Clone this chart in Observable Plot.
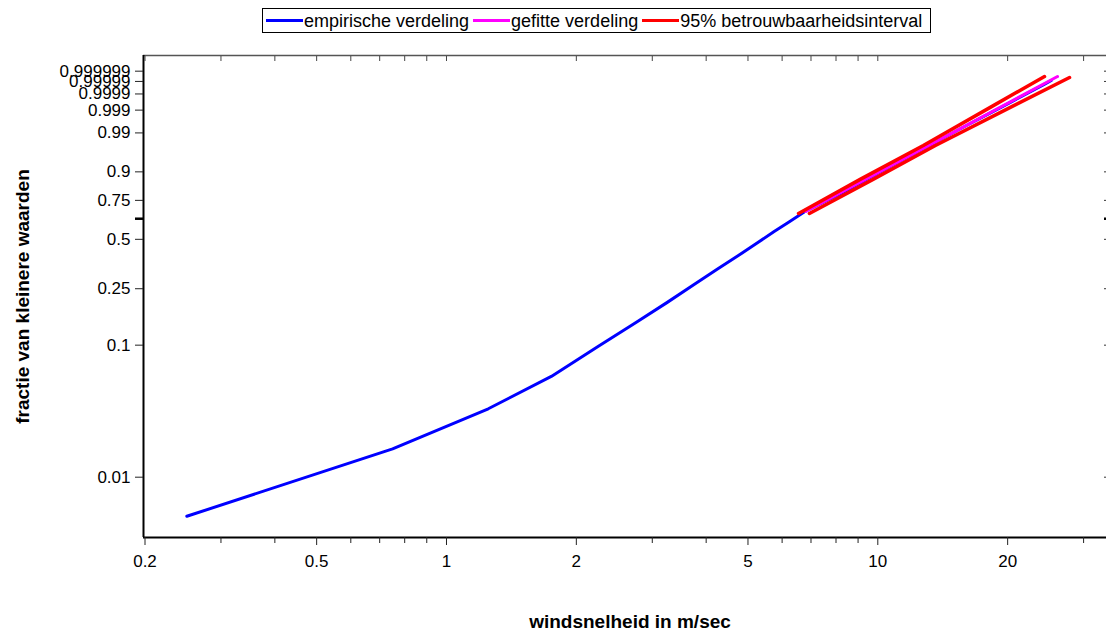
<!DOCTYPE html>
<html>
<head>
<meta charset="utf-8">
<script src="https://cdn.jsdelivr.net/npm/d3@7"></script>
<script src="https://cdn.jsdelivr.net/npm/@observablehq/plot@0.6"></script>
<style>
  html, body { margin: 0; padding: 0; background: #fff; }
  body { width: 1106px; height: 637px; overflow: hidden; font-family: "Liberation Sans", Arial, sans-serif; }
  #legend { position: relative; width: 1106px; height: 40px; }
  #legend .box { position: absolute; left: 262px; top: 8px; width: 669px; height: 25px; border: 1px solid #000; box-sizing: border-box; display: flex; align-items: center; padding-left: 3px; }
  #legend .sw { width: 37px; height: 3px; flex: none; }
  #legend .lab { font-size: 18px; color: #000; margin-left: 1px; margin-right: 4px; white-space: nowrap; line-height: 1; }
  svg { display: block; }
</style>
</head>
<body>
<div id="legend"><div class="box"></div></div>
<div id="chart"></div>
<script>
// ---------- data ----------
const legendNames = ["empirische verdeling", "gefitte verdeling", "95% betrouwbaarheidsinterval"];
const legendColors = ["#0000ff", "#ff00ff", "#ff0000"];

// empirical distribution (wind speed m/s, fraction of smaller values)
const empSpeed = [0.25, 0.75, 1.25, 1.75, 2.25, 2.75, 3.25, 3.75, 4.25, 4.75, 5.25, 5.75, 6.25, 6.75,
                  8.25, 10.25, 12.25, 14.25, 16.25, 18.25, 20.25, 22.25, 24.25, 25.25];
const empFrac  = [0.005, 0.0165, 0.0334, 0.0586, 0.098, 0.146, 0.202, 0.267, 0.336, 0.405, 0.477, 0.549, 0.614, 0.676,
                  0.795, 0.905, 0.961, 0.9857, 0.99535, 0.99862, 0.99963, 0.999912, 0.999981, 0.9999918];

// fitted distribution
const fitSpeed = [6.8, 26.1];
const fitFrac  = [0.6795, 0.9999965];

// 95% confidence band (left / right)
const bandLowSpeed  = [6.55, 9.1, 12.75, 18.4, 24.35];
const bandLowFrac   = [0.6664, 0.8665, 0.9748, 0.99938, 0.9999965];
const bandHighSpeed = [6.94, 9.75, 13.6, 20.5, 27.83];
const bandHighFrac  = [0.6664, 0.8665, 0.9748, 0.99938, 0.9999957];

// axes
const xDomain = [0.1984, 33.9];
const xMajorTicks = [0.2, 0.5, 1, 2, 5, 10, 20];
const xMajorLabels = ["0.2", "0.5", "1", "2", "5", "10", "20"];
const xMinorTicks = [0.3, 0.4, 0.6, 0.7, 0.8, 0.9, 3, 4, 6, 7, 8, 9, 30];
const yDomainFrac = [0.00343, 0.9999999883];
const yTicks = [0.01, 0.1, 0.25, 0.5, 0.75, 0.9, 0.99, 0.999, 0.9999, 0.99999, 0.999999];
const yTickLabels = ["0.01", "0.1", "0.25", "0.5", "0.75", "0.9", "0.99", "0.999", "0.9999", "0.99999", "0.999999"];
const yRefTick = [1 - Math.exp(-1)];
const xTitle = "windsnelheid in m/sec";
const yTitle = "fractie van kleinere waarden";

// ---------- legend ----------
const box = document.querySelector("#legend .box");
legendNames.forEach((n, i) => {
  const sw = document.createElement("span"); sw.className = "sw"; sw.style.background = legendColors[i];
  const lb = document.createElement("span"); lb.className = "lab"; lb.textContent = n;
  box.appendChild(sw); box.appendChild(lb);
});

// ---------- chart ----------
const wt = p => Math.log(-Math.log(1 - p)); // Weibull probability transform
const rows = (xs, ps) => xs.map((x, i) => ({x, p: ps[i]}));
const emp = rows(empSpeed, empFrac);
const fit = rows(fitSpeed, fitFrac);
const bandL = rows(bandLowSpeed, bandLowFrac);
const bandH = rows(bandHighSpeed, bandHighFrac);

const yT = yTicks.map(wt);
const yLabelMap = new Map(yT.map((t, i) => [t, yTickLabels[i]]));
const xLabelMap = new Map(xMajorTicks.map((t, i) => [t, xMajorLabels[i]]));
const allX = [...xMajorTicks, ...xMinorTicks];
const yDom = yDomainFrac.map(wt);
const blank = () => "";

const chart = Plot.plot({
  width: 1106,
  height: 597,
  marginTop: 15,
  marginBottom: 100,
  marginLeft: 143,
  marginRight: 0,
  style: {fontFamily: "'Liberation Sans', Arial, sans-serif", fontSize: "17px", background: "#fff", color: "#000", overflow: "visible"},
  x: {type: "log", domain: xDomain, axis: null},
  y: {type: "linear", domain: yDom, axis: null},
  marks: [
    // frame
    Plot.ruleY([yDom[1]], {stroke: "#555", strokeWidth: 1.5}),
    Plot.ruleY([yDom[0]], {stroke: "#000", strokeWidth: 2}),
    Plot.ruleX([xDomain[0]], {stroke: "#000", strokeWidth: 2}),
    // bottom axis
    Plot.axisX({anchor: "bottom", ticks: xMajorTicks, tickSize: 8, tickPadding: 9, tickFormat: d => xLabelMap.get(d), label: null, fontSize: 17, stroke: "#222"}),
    Plot.axisX({anchor: "bottom", ticks: xMinorTicks, tickSize: 6, tickFormat: blank, label: null, stroke: "#222"}),
    // top ticks (inward)
    Plot.axisX({anchor: "top", ticks: allX, tickSize: -5, tickFormat: blank, label: null, stroke: "#444"}),
    // left axis
    Plot.axisY({anchor: "left", ticks: yT, tickSize: 8, tickPadding: 5, tickFormat: d => yLabelMap.get(d) ?? "", label: null, fontSize: 17, stroke: "#222"}),
    Plot.axisY({anchor: "left", ticks: yRefTick.map(wt), tickSize: 8, tickFormat: blank, label: null, strokeWidth: 2.5, stroke: "#000"}),
    // right ticks (inward)
    Plot.axisY({anchor: "right", ticks: yT, tickSize: -3, tickFormat: blank, label: null, stroke: "#333"}),
    Plot.axisY({anchor: "right", ticks: yRefTick.map(wt), tickSize: -3, tickFormat: blank, label: null, strokeWidth: 2.5, stroke: "#000"}),
    // series
    Plot.line(emp, {x: "x", y: d => wt(d.p), stroke: legendColors[0], strokeWidth: 3}),
    Plot.line(fit, {x: "x", y: d => wt(d.p), stroke: legendColors[1], strokeWidth: 3}),
    Plot.line(bandL, {x: "x", y: d => wt(d.p), stroke: legendColors[2], strokeWidth: 3.5}),
    Plot.line(bandH, {x: "x", y: d => wt(d.p), stroke: legendColors[2], strokeWidth: 3.5}),
    // titles
    Plot.text([xTitle], {text: d => d, frameAnchor: "bottom", dy: 90, dx: 5, fontWeight: "bold", fontSize: 19}),
    Plot.text([yTitle], {text: d => d, frameAnchor: "left", textAnchor: "middle", rotate: -90, dx: -121, fontWeight: "bold", fontSize: 19})
  ]
});
document.getElementById("chart").appendChild(chart);
</script>
</body>
</html>
